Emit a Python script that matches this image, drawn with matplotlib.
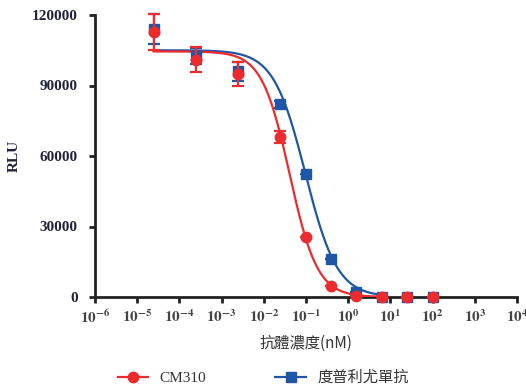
import numpy as np
import matplotlib.pyplot as plt
from matplotlib.lines import Line2D

plt.rcParams['mathtext.fontset'] = 'stix'

conc = [2.44e-5, 2.44e-4, 2.44e-3, 0.0244, 0.0977, 0.39, 1.5625, 6.25, 25, 100]

cm310_mean = [112750, 101000, 94900, 68000, 25500, 4700, 300, 0, 0, 0]
cm310_sd = [7500, 5200, 4900, 2500, 0, 0, 0, 0, 0, 0]
dup_mean = [114000, 102500, 96000, 82000, 52300, 16200, 2100, 0, 0, 0]
dup_sd = [6300, 3400, 4100, 1500, 0, 0, 0, 0, 0, 0]

# 4PL fit parameters (top, bottom, IC50, hill)
cm310_fit = [104500, 0, 0.041, 1.32]
dup_fit = [105000, 0, 0.097, 1.15]

red = '#EC2B2E'
blue = '#1F56A6'


def fourpl(x, top, bottom, ic50, hill):
    return bottom + (top - bottom) / (1 + (x / ic50) ** hill)


fig = plt.figure(figsize=(5.26, 3.88), dpi=100)
ax = fig.add_axes([95 / 526, 1 - 297 / 388, 422 / 526, 282 / 388])

xx = np.logspace(np.log10(conc[0]), np.log10(6.25), 300)
ax.plot(xx, fourpl(xx, *dup_fit), color=blue, lw=1.6, zorder=2)
ax.plot(xx, fourpl(xx, *cm310_fit), color=red, lw=1.6, zorder=2)

ax.errorbar(conc, dup_mean, yerr=dup_sd, fmt='s', color=blue, ms=7.5, capsize=4,
            elinewidth=1.6, capthick=1.6, clip_on=False, zorder=3)
ax.errorbar(conc, cm310_mean, yerr=cm310_sd, fmt='o', color=red, ms=7.5, capsize=4,
            elinewidth=1.6, capthick=1.6, clip_on=False, zorder=4)

ax.set_xscale('log')
ax.set_xlim(1e-6, 1e4)
ax.set_ylim(0, 120000)
decades = list(range(-6, 5))
ax.set_xticks([10.0 ** d for d in decades])
ax.set_xticklabels([r'$\mathbf{10^{%d}}$' % d for d in decades], fontsize=11)
ax.xaxis.set_minor_locator(plt.NullLocator())
ax.set_yticks([0, 30000, 60000, 90000, 120000])
ax.set_yticklabels(['0', '30000', '60000', '90000', '120000'],
                   family='Liberation Serif', weight='bold', fontsize=11, color='#22223A')
for lbl in ax.get_xticklabels():
    lbl.set_color('#444444')

for s in ['top', 'right']:
    ax.spines[s].set_visible(False)
for s in ['left', 'bottom']:
    ax.spines[s].set_linewidth(2)
    ax.spines[s].set_color('#222222')
    ax.spines[s].set_zorder(1)
ax.tick_params(direction='out', length=4.5, width=2, color='#222222')
ax.tick_params(axis='x', pad=4)
ax.tick_params(axis='y', pad=8)

ax.set_ylabel('RLU', family='Liberation Serif', weight='bold', fontsize=11,
              labelpad=8, color='#22223A')
ax.set_xlabel('抗體濃度(nM)', family=['Noto Sans CJK TC', 'DejaVu Sans'], fontsize=11,
              labelpad=6, color='#333333')

handles = [
    Line2D([], [], color=red, marker='o', ms=7.5, lw=1.6),
    Line2D([], [], color=blue, marker='s', ms=7.5, lw=1.6),
]
leg = fig.legend(handles, ['CM310', '度普利尤單抗'], loc='center', ncol=2,
                 bbox_to_anchor=(0.5, 1 - 377 / 388), frameon=False,
                 handlelength=2.2, columnspacing=5, handletextpad=0.8)
leg.get_texts()[0].set_family('Liberation Serif')
leg.get_texts()[0].set_fontsize(11)
leg.get_texts()[1].set_family(['Noto Sans CJK TC', 'DejaVu Sans'])
leg.get_texts()[1].set_fontsize(11)
for t in leg.get_texts():
    t.set_color('#333333')

fig.savefig('out.png', dpi=100)
